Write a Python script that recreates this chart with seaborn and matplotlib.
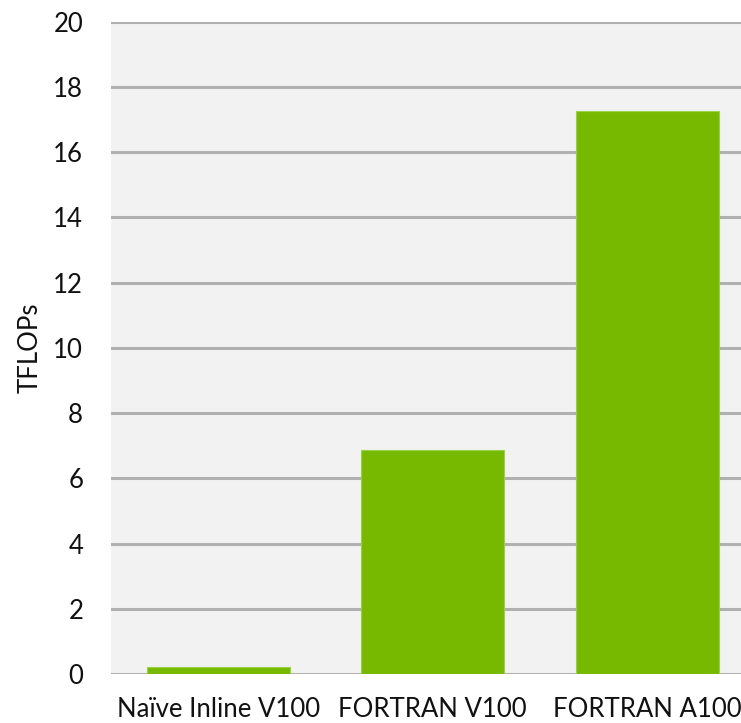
import matplotlib
matplotlib.use("Agg")
import matplotlib.pyplot as plt
import seaborn as sns
import pandas as pd

categories = ["Naïve Inline V100", "FORTRAN V100", "FORTRAN A100"]
tflops = [0.21, 6.86, 17.27]
y_ticks = [0, 2, 4, 6, 8, 10, 12, 14, 16, 18, 20]

df = pd.DataFrame({"config": categories, "TFLOPs": tflops})

sns.set_style("white")
plt.rcParams["font.family"] = ["Lato", "DejaVu Sans"]

fig = plt.figure(figsize=(7.41, 7.23), dpi=100)
ax = fig.add_axes([111 / 741, 48.7 / 723, 643.5 / 741, 652.8 / 723])
ax.set_facecolor("#f2f2f2")

sns.barplot(data=df, x="config", y="TFLOPs", color="#76b900", saturation=1,
            width=0.667, edgecolor="#9ccf4a", linewidth=0.8, ax=ax, zorder=3)

ax.set_xlim(-0.5, 2.5)
ax.set_ylim(0, 20)
ax.set_yticks(y_ticks)
ax.yaxis.grid(True, color="#b0b0b0", linewidth=2.2, zorder=1)
ax.set_axisbelow(True)
for s in ax.spines.values():
    s.set_visible(False)

ax.tick_params(axis="y", length=0, pad=20, labelsize=18.5, labelcolor="#111111")
ax.tick_params(axis="x", length=0, pad=16, labelsize=18.5, labelcolor="#111111")
ax.set_xlabel("")
ax.set_ylabel("TFLOPs", fontsize=18.5, color="#111111")
ax.yaxis.set_label_coords(-0.1056, 0.5)

fig.savefig("out.png", dpi=100)
